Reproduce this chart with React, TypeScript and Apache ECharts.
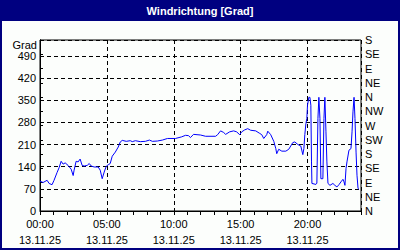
import React, { useEffect, useRef } from "react";
import * as echarts from "echarts";

const hours = [0.0, 0.23, 0.53, 0.68, 0.9, 1.05, 1.28, 1.43, 1.58, 1.73, 1.88, 2.1, 2.33, 2.48, 2.55, 2.7, 2.85, 3.0, 3.15, 3.3, 3.53, 3.68, 3.83, 4.05, 4.35, 4.5, 4.65, 4.8, 4.95, 5.1, 5.25, 5.4, 5.63, 5.85, 6.0, 6.15, 6.45, 6.75, 6.9, 7.13, 7.5, 7.88, 8.18, 8.4, 8.78, 9.15, 9.53, 10.13, 10.58, 10.88, 11.1, 11.25, 11.48, 12.0, 12.38, 13.13, 13.28, 13.5, 13.73, 13.88, 14.18, 14.48, 14.7, 14.93, 15.08, 15.3, 15.53, 15.75, 16.13, 16.43, 16.58, 16.73, 16.95, 17.03, 17.25, 17.48, 17.63, 17.7, 17.85, 18.08, 18.38, 18.6, 18.9, 19.05, 19.28, 19.5, 19.65, 19.73, 19.8, 19.88, 19.95, 20.0, 20.1, 20.18, 20.25, 20.3, 20.33, 20.63, 20.7, 20.78, 20.85, 20.93, 21.0, 21.15, 21.23, 21.3, 21.38, 21.45, 21.53, 21.68, 21.9, 22.05, 22.2, 22.35, 22.5, 22.65, 22.73, 22.8, 22.88, 22.95, 23.1, 23.25, 23.33, 23.4, 23.48, 23.55, 23.63, 23.7, 23.78, 23.85];
const direction = [94, 90, 97, 87, 83, 97, 122, 137, 157, 148, 152, 144, 132, 112, 129, 157, 155, 164, 144, 142, 144, 150, 142, 139, 139, 129, 102, 123, 141, 146, 150, 173, 186, 202, 218, 223, 220, 222, 219, 222, 219, 220, 224, 220, 221, 224, 229, 229, 234, 239, 238, 232, 242, 240, 236, 236, 241, 253, 248, 242, 250, 253, 250, 241, 250, 256, 260, 255, 253, 245, 241, 229, 241, 252, 241, 220, 197, 181, 195, 189, 189, 195, 216, 218, 210, 205, 178, 197, 241, 276, 292, 334, 359, 359, 334, 155, 87, 84, 88, 292, 359, 292, 102, 102, 292, 359, 250, 155, 87, 81, 87, 81, 76, 83, 92, 100, 92, 81, 134, 155, 192, 197, 250, 313, 359, 292, 186, 113, 71, 69];
const compassLabels = ["N", "NE", "E", "SE", "S", "SW", "W", "NW", "N", "NE", "E", "SE", "S"];
const dateLabel = "13.11.25";
const titleText = "Windrichtung [Grad]";
const unitLabel = "Grad";

const FONT = "Liberation Sans, Arial, sans-serif";

export default function App() {
  const ref = useRef<HTMLDivElement>(null);
  useEffect(() => {
    if (!ref.current) return;
    const chart = echarts.init(ref.current, null, { renderer: "svg" });
    const data = hours.map((h, i) => [h, direction[i]]);
    chart.setOption({
      animation: false,
      backgroundColor: "#fcfefc",
      textStyle: { fontFamily: FONT },
      graphic: [
        { type: "rect", shape: { x: 0, y: 0, width: 400, height: 21 }, style: { fill: "#000080" }, z: 0 },
        { type: "rect", shape: { x: 0, y: 0, width: 2, height: 250 }, style: { fill: "#000080" } },
        { type: "rect", shape: { x: 398, y: 0, width: 2, height: 250 }, style: { fill: "#000080" } },
        { type: "rect", shape: { x: 0, y: 248, width: 400, height: 2 }, style: { fill: "#000080" } },
        {
          type: "text", x: 200, y: 11,
          style: { text: titleText, fill: "#ffffff", font: `bold 11px ${FONT}`, textAlign: "center", textVerticalAlign: "middle" },
        },
        {
          type: "text", x: 37, y: 45,
          style: { text: unitLabel, fill: "#000000", font: `11px ${FONT}`, textAlign: "right", textVerticalAlign: "middle" },
        },
      ],
      grid: { left: 40, right: 39, top: 40, bottom: 39, show: true, borderColor: "#000", borderWidth: 1, backgroundColor: "transparent" },
      xAxis: [
        {
          type: "value", min: 0, max: 24, interval: 1, position: "bottom",
          axisLine: { show: true, lineStyle: { color: "#000" } },
          axisTick: { show: true, length: 4, lineStyle: { color: "#000" } },
          axisLabel: { show: false },
          splitLine: { show: false },
        },
        {
          type: "value", min: 0, max: 24, interval: 5, position: "bottom",
          axisLine: { show: false }, axisTick: { show: false },
          axisLabel: {
            show: true, color: "#000", fontSize: 11, fontFamily: FONT, lineHeight: 16, margin: 5,
            showMaxLabel: false,
            formatter: (v: number) => (v % 5 === 0 ? `${String(v).padStart(2, "0")}:00\n${dateLabel}` : ""),
          },
          splitLine: { show: true, lineStyle: { color: "#000", type: [4, 3], width: 1 } },
        },
      ],
      yAxis: [
        {
          type: "value", min: 0, max: 540, interval: 70, position: "left",
          axisLine: { show: true, lineStyle: { color: "#000" } },
          axisTick: { show: false },
          axisLabel: {
            color: "#000", fontSize: 11, fontFamily: FONT, margin: 4,
            formatter: (v: number) => (v > 490 ? "" : String(v)),
          },
          splitLine: { show: true, lineStyle: { color: "#000", type: [4, 3], width: 1 } },
        },
        {
          type: "value", min: 0, max: 540, interval: 45, position: "right",
          axisLine: { show: true, lineStyle: { color: "#000" } },
          axisTick: { show: true, length: 3, lineStyle: { color: "#000" } },
          axisLabel: {
            color: "#000", fontSize: 11, fontFamily: FONT, margin: 4,
            formatter: (v: number) => compassLabels[Math.round(v / 45)] ?? "",
          },
          splitLine: { show: false },
        },
      ],
      series: [
        {
          type: "line", xAxisIndex: 0, yAxisIndex: 0, data, symbol: "none",
          lineStyle: { color: "#0000ff", width: 1 }, z: 5,
        },
      ],
    });
    return () => chart.dispose();
  }, []);
  return <div ref={ref} style={{ position: "fixed", left: 0, top: 0, width: 400, height: 250 }} />;
}
